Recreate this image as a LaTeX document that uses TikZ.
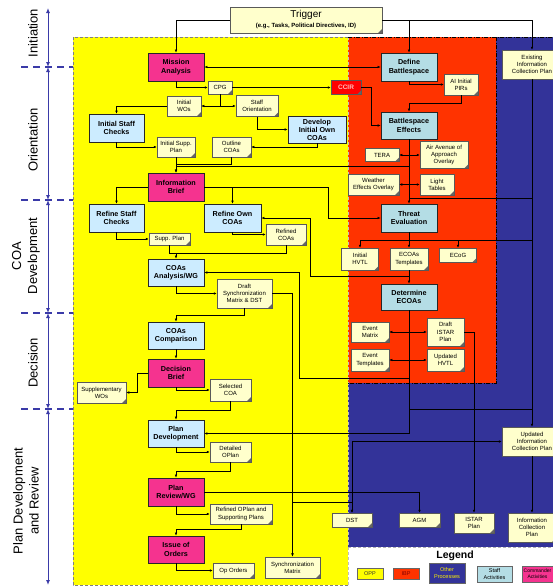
\documentclass[tikz,border=0pt]{standalone}
\usepackage{fontspec}
\setmainfont{Liberation Sans}
\usetikzlibrary{arrows.meta,calc}
\definecolor{opp}{HTML}{FFFF00}
\definecolor{ibp}{HTML}{FF3300}
\definecolor{oth}{HTML}{333399}
\definecolor{cmd}{HTML}{F5338F}
\definecolor{stl}{HTML}{CCECFF}
\definecolor{stt}{HTML}{B4DDE5}
\definecolor{notec}{HTML}{FFFFCC}
\definecolor{axisc}{HTML}{3A3AA8}
\tikzset{
  boxbase/.style={draw=black!85, line width=0.8pt, inner sep=0pt, align=center,
    font=\bfseries\fontsize{7.2}{8.4}\selectfont},
  cmdbox/.style={boxbase, fill=cmd},
  stbox/.style={boxbase, fill=stl},
  sttbox/.style={boxbase, fill=stt},
  notebox/.style={draw=black!65, line width=0.5pt, fill=notec, inner sep=0pt, align=center,
    font=\fontsize{6}{7.2}\selectfont,
    path picture={\fill[black!60] ($(path picture bounding box.south east)+(-4pt,0pt)$)
      -- (path picture bounding box.south east)
      -- ($(path picture bounding box.south east)+(0pt,4pt)$) -- cycle;}},
  legbox/.style={draw=black!60, line width=0.5pt, inner sep=0pt, align=center,
    font=\fontsize{5.5}{6.5}\selectfont},
  sz/.style 2 args={minimum width=#1pt, minimum height=#2pt},
  conn/.style={line width=0.5pt, draw=black, -{Latex[length=3pt,width=2.6pt]}},
  plain/.style={line width=0.5pt, draw=black},
  strong/.style={line width=0.9pt, draw=black, -{Latex[length=3.5pt,width=3pt]}},
  bidir/.style={line width=0.5pt, draw=black, {Latex[length=3pt,width=2.6pt]}-{Latex[length=3pt,width=2.6pt]}},
  axisarrow/.style={draw=axisc, line width=1pt, {Latex[length=5pt,width=4pt]}-{Latex[length=5pt,width=4pt]}},
  phasedash/.style={draw=axisc, line width=2.5pt, dash pattern=on 7pt off 5pt},
  phase/.style={rotate=90, font=\fontsize{13}{16}\selectfont, align=center, inner sep=0pt},
}
\begin{document}
\begin{tikzpicture}[x=1pt,y=-1pt]
\useasboundingbox (0,0) rectangle (553,587);
\clip (0,0) rectangle (553,587);
% backgrounds
\fill[white] (0,0) rectangle (553,587);
\fill[opp] (73,37) rectangle (348,585);
\fill[oth] (348,37) rectangle (553,547);
\fill[ibp] (348,37) rectangle (496,383);
\draw[black!50, dash pattern=on 3pt off 2pt, line width=0.8pt] (348,585) -- (73,585) -- (73,37) -- (348,37);
\draw[white!75!black, dash pattern=on 3pt off 2pt, line width=0.6pt] (348,37) -- (348,585);
\draw[black, dash pattern=on 4pt off 1.5pt on 1pt off 1.5pt, line width=0.8pt] (348,37) -- (553,37);
\draw[black, dash pattern=on 4pt off 1.5pt on 1pt off 1.5pt, line width=0.8pt] (496,37) -- (496,383) -- (348,383);
\draw[white!70!black, dash pattern=on 3pt off 2pt, line width=0.8pt] (348,547) -- (553,547);

% phase axis
\coordinate (a0) at (48,8);
\coordinate (a1) at (48,67);
\coordinate (a2) at (48,200);
\coordinate (a3) at (48,313);
\coordinate (a4) at (48,409);
\coordinate (a5) at (48,585);
\draw[axisarrow] (a0) -- (a1);
\draw[axisarrow] (a1) -- (a2);
\draw[axisarrow] (a2) -- (a3);
\draw[axisarrow] (a3) -- (a4);
\draw[axisarrow] (a4) -- (a5);
\draw[phasedash] (21,67) -- (73,67);
\draw[phasedash] (21,200) -- (73,200);
\draw[phasedash] (21,313) -- (73,313);
\draw[phasedash] (21,409) -- (73,409);
\node[phase] (pinit) at (33,33) {Initiation};
\node[phase] (porient) at (33,140) {Orientation};
\node[phase] (pcoa) at (26,256) {COA\\Development};
\node[phase] (pdec) at (33,363) {Decision};
\node[phase] (pplan) at (26,501) {Plan Development\\and Review};

% trigger
\node[notebox, sz={152}{26}, font=\fontsize{10}{11}\selectfont] (trig) at (306,20)
  {Trigger\\[-1pt]{\bfseries\fontsize{6}{7}\selectfont (e.g., Tasks, Political Directives, ID)}};

% command boxes
\node[cmdbox, sz={56}{28}] (ma) at (176,67) {Mission\\Analysis};
\node[cmdbox, sz={56}{28}] (ib) at (176,187) {Information\\Brief};
\node[cmdbox, sz={56}{28}] (dbf) at (176,373) {Decision\\Brief};
\node[cmdbox, sz={56}{28}] (prw) at (176,492) {Plan\\Review/WG};
\node[cmdbox, sz={56}{27}] (io) at (176,549.5) {Issue of\\Orders};
% staff boxes (OPP)
\node[stbox, sz={55}{28}] (isc) at (116.5,128) {Initial Staff\\Checks};
\node[stbox, sz={58}{27}, font=\bfseries\fontsize{7.2}{8}\selectfont] (dio) at (317,129.5) {Develop\\Initial Own\\COAs};
\node[stbox, sz={55}{28}] (rsc) at (116.5,218) {Refine Staff\\Checks};
\node[stbox, sz={57}{28}] (roc) at (232.5,218) {Refine Own\\COAs};
\node[stbox, sz={56}{27}] (coa) at (176,272.5) {COAs\\Analysis/WG};
\node[stbox, sz={56}{27}] (cc) at (176,335.5) {COAs\\Comparison};
\node[stbox, sz={56}{27}] (pd) at (176,433.5) {Plan\\Development};
% staff boxes (IBP)
\node[sttbox, sz={56}{28}] (db) at (409,67) {Define\\Battlespace};
\node[sttbox, sz={56}{27}] (be) at (409,125.5) {Battlespace\\Effects};
\node[sttbox, sz={56}{28}] (te) at (409,218) {Threat\\Evaluation};
\node[sttbox, sz={56}{26}] (de) at (409,297) {Determine\\ECOAs};

% notes
\node[notebox, sz={24}{13}] (cpg) at (220,87.5) {CPG};
\node[notebox, sz={34}{20}] (iwo) at (184,106) {Initial\\WOs};
\node[notebox, sz={42}{21}] (so) at (257,106) {Staff\\Orientation};
\node[notebox, sz={38}{20}] (isp) at (176,147) {Initial Supp.\\Plan};
\node[notebox, sz={39}{20}] (oc) at (231.5,147) {Outline\\COAs};
\node[notebox, sz={30}{14}, fill=red, text=red!25!white, font=\bfseries\fontsize{6.5}{7}\selectfont] (ccir) at (346,87.5) {CCIR};
\node[notebox, sz={34}{21}] (aipir) at (461,84.5) {AI Initial\\PIRs};
\node[notebox, sz={60}{29}] (eicp) at (532,64.5) {Existing\\Information\\Collection Plan};
\node[notebox, sz={34}{13}] (tera) at (382,155) {TERA};
\node[notebox, sz={48}{27}] (aaa) at (444,155) {Air Avenue of\\Approach\\Overlay};
\node[notebox, sz={51}{21}] (weo) at (373.5,184.5) {Weather\\Effects Overlay};
\node[notebox, sz={34}{21}] (lt) at (437,184.5) {Light\\Tables};
\node[notebox, sz={37}{22}] (ihvtl) at (360,259) {Initial\\HVTL};
\node[notebox, sz={38}{22}] (ecoat) at (409,259) {ECOAs\\Templates};
\node[notebox, sz={37}{14}] (ecog) at (458,255) {ECoG};
\node[notebox, sz={38}{20}] (em) at (370,332) {Event\\Matrix};
\node[notebox, sz={38}{22}] (et) at (370,360) {Event\\Templates};
\node[notebox, sz={37}{28}] (distar) at (445.5,332) {Draft\\ISTAR\\Plan};
\node[notebox, sz={37}{22}] (uhvtl) at (445.5,360) {Updated\\HVTL};
\node[notebox, sz={60}{29}] (uicp) at (532,441.5) {Updated\\Information\\Collection Plan};
\node[notebox, sz={40}{14}] (dst) at (352,520) {DST};
\node[notebox, sz={41}{14}] (agm) at (419.5,520) {AGM};
\node[notebox, sz={40}{20}] (istarp) at (474,523) {ISTAR\\Plan};
\node[notebox, sz={48}{29}] (icp) at (532,527.5) {Information\\Collection\\Plan};
\node[notebox, sz={41}{12}] (sp) at (169.5,239) {Supp. Plan};
\node[notebox, sz={40}{21}] (rc) at (286,234.5) {Refined\\COAs};
\node[notebox, sz={55}{29}] (dsm) at (244.5,293.5) {Draft\\Synchronization\\Matrix \& DST};
\node[notebox, sz={49}{21}] (swo) at (101.5,392.5) {Supplementary\\WOs};
\node[notebox, sz={41}{22}] (scoa) at (230.5,390) {Selected\\COA};
\node[notebox, sz={41}{20}] (dop) at (230.5,452) {Detailed\\OPlan};
\node[notebox, sz={62}{20}] (rop) at (241,514) {Refined OPlan and\\Supporting Plans};
\node[notebox, sz={41}{15}] (oo) at (233.5,570.5) {Op Orders};
\node[notebox, sz={55}{21}] (sm) at (292.5,567.5) {Synchronization\\Matrix};

% connectors
\draw[conn] (trig.west) -| (ma.north);
\draw[conn] (trig.east) -| (db.north);
\draw[conn] (trig.east) -| (eicp.north);
\draw[bidir] (ma.east) -- (db.west);
\draw[conn] (ma.south) |- (cpg.west);
\draw[conn] (cpg.east) -- (ccir.west);
\draw[conn] (cpg.south) |- (iwo.east);
\draw[conn] (cpg.south) |- (so.west);
\draw[conn] (iwo.west) -| (isc.north);
\draw[conn] (so.south) |- (dio.west);
\draw[conn] (dio.south) |- (oc.east);
\draw[conn] (isc.south) |- (isp.west);
\draw[conn] (isp.south) -- (ib.north);
\coordinate (j1) at (176,164);
\draw[plain] (oc.south) |- (j1);
\draw[conn] (db.south) |- (aipir.west);
\coordinate (j2) at (409,103);
\draw[conn] (aipir.south) |- (j2) -- (be.north);
\draw[conn] (ccir.east) -- ++(10,0) |- (be.west);
\draw[conn] (be.south) -- (te.north);
\draw[bidir] (tera.east) -- (aaa.west);
\draw[bidir] (weo.east) -- (lt.west);
\coordinate (j3) at (409,166);
\draw[conn] (j3) -| (ib.north);
\coordinate (j4) at (409,198);
\coordinate (j5) at (532,198);
\draw[plain] (j4) -- (j5);
\draw[conn] (eicp.south) -- (uicp.north);
\draw[conn] (ib.west) -| (rsc.north);
\draw[conn] (ib.east) -| (roc.north);
\draw[conn] (ib.east) -- ++(124,0) |- (te.west);
\coordinate (bus) at (409,240);
\coordinate (j6) at (532,240);
\draw[plain] (te.south) -- (bus) -- (j6);
\draw[conn] (bus) -| (ihvtl.north);
\draw[conn] (bus) -- (ecoat.north);
\draw[conn] (bus) -| (ecog.north);
\draw[conn] (ecoat.south) -- (de.north);
\coordinate (j7) at (409,276);
\draw[conn] (j7) -- ++(-99,0) |- (roc.east);
\draw[conn] (rsc.south) |- (sp.west);
\draw[conn] (roc.south) |- (rc.west);
\draw[plain] (sp.south) -- ++(0,8) -| (rc.south);
\coordinate (j8) at (176,253);
\draw[conn] (j8) -- (coa.north);
\coordinate (j9) at (299,378);
\draw[conn] (de.south) |- (j9) |- (coa.east);
\coordinate (j10) at (532,409);
\draw[plain] (de.south) |- (j10);
\draw[conn] (de.south) |- (pd.east);
\draw[conn] (coa.south) |- (dsm.west);
\draw[conn] (dsm.south) -- ++(0,7) -| (cc.north);
\draw[strong] (dsm.east) -| (sm.north);
\coordinate (j11) at (292.5,502);
\draw[conn] (j11) -| (dst.north);
\draw[conn] (cc.south) -- (dbf.north);
\draw[conn] (dbf.west) -- ++(-10,0) |- (swo.east);
\draw[conn] (dbf.south) |- (scoa.west);
\draw[conn] (scoa.south) -- ++(0,9) -| (pd.north);
\draw[conn] (pd.south) |- (dop.west);
\draw[conn] (dop.south) -- ++(0,9) -| (prw.north);
\draw[conn] (prw.south) |- (rop.west);
\draw[conn] (rop.south) -- ++(0,5) -| (io.north);
\draw[conn] (io.south) |- (oo.west);
\coordinate (j12) at (352,492);
\draw[conn] (prw.east) -- (j12) |- (uicp.west);
\draw[conn] (prw.east) -| (agm.north);
\draw[conn] (j12) -- (dst.north);
\draw[conn] (distar.east) -| (istarp.north);
\draw[bidir] (em.east) -- (distar.west);
\draw[bidir] (et.east) -- (uhvtl.west);
\draw[conn] (uicp.south) -- (icp.north);

% legend
\node[font=\bfseries\fontsize{10.5}{12}\selectfont] (legt) at (455,556) {Legend};
\node[legbox, fill=opp, sz={26}{11}, text=black!80] (lopp) at (370,573.5) {OPP};
\node[legbox, fill=ibp, sz={26}{11}, text=red!50!black] (libp) at (406,573.5) {IBP};
\node[legbox, fill=oth, sz={36}{20}, text=yellow] (loth) at (447,573) {Other\\Processes};
\node[legbox, fill=stt, sz={35}{16}] (lstaff) at (494.5,574) {Staff\\Activities};
\node[legbox, fill=cmd, sz={31}{16}, font=\fontsize{5}{6}\selectfont] (lcmd) at (537.5,574) {Commander\\Activities};
\end{tikzpicture}
\end{document}
